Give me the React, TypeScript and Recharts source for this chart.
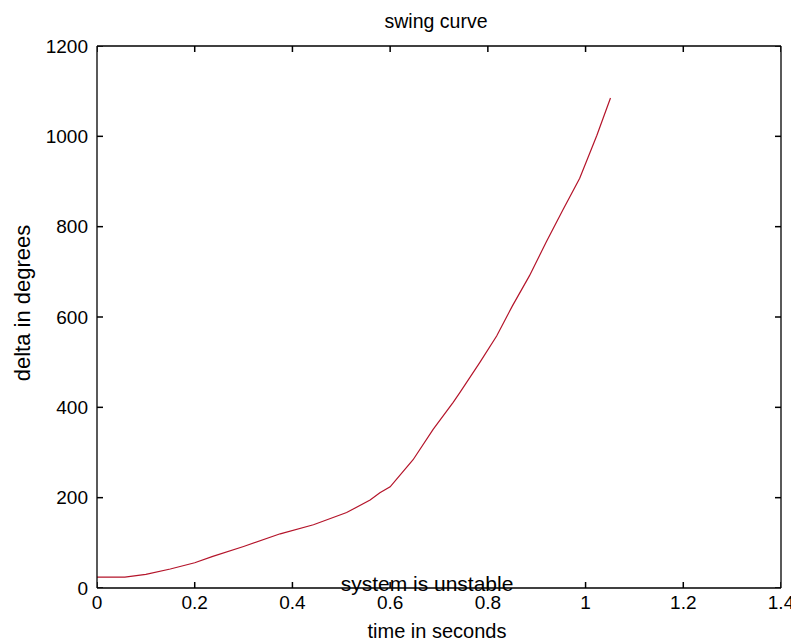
import React from 'react';
import { ComposedChart, Line, Scatter, XAxis, YAxis, Customized } from 'recharts';

const timeValues = [0, 0.02, 0.04, 0.057, 0.1, 0.15, 0.2, 0.237, 0.3, 0.375, 0.443, 0.511, 0.559, 0.579, 0.6, 0.647, 0.688, 0.729, 0.743, 0.784, 0.818, 0.85, 0.885, 0.92, 0.954, 0.988, 1.023, 1.051];
const deltaValues = [24, 24, 24, 24, 30, 42, 56, 70, 92, 120, 140, 167, 195, 211, 224, 284, 351, 411, 433, 500, 558, 624, 691, 767, 838, 907, 1002, 1085];
const xTicks = [0, 0.2, 0.4, 0.6, 0.8, 1, 1.2, 1.4];
const yTicks = [0, 200, 400, 600, 800, 1000, 1200];

const titleText = 'swing curve';
const xLabelText = 'time in seconds';
const yLabelText = 'delta in degrees';
const noteText = 'system is unstable';

const X_MIN = 0;
const X_MAX = 1.4;
const Y_MIN = 0;
const Y_MAX = 1200;

const data = timeValues.map((t, i) => ({ t, delta: deltaValues[i] }));

// tick anchor points on the four sides of the frame
const bottomTickData = xTicks.map((t) => ({ t, delta: Y_MIN }));
const topTickData = xTicks.map((t) => ({ t, delta: Y_MAX }));
const leftTickData = yTicks.map((v) => ({ t: X_MIN, delta: v }));
const rightTickData = yTicks.map((v) => ({ t: X_MAX, delta: v }));

const FONT = '"Liberation Sans", Arial, Helvetica, sans-serif';
const TICK_LEN = 6;

const makeTickShape = (dx: number, dy: number) => (props: any) => {
  const cx = Number(props.cx);
  const cy = Number(props.cy);
  if (!isFinite(cx) || !isFinite(cy)) return <g />;
  return <path d={`M${cx},${cy}L${cx + dx},${cy + dy}`} stroke="#000" strokeWidth={1.5} fill="none" />;
};

const bottomShape = makeTickShape(0, -TICK_LEN);
const topShape = makeTickShape(0, TICK_LEN);
const leftShape = makeTickShape(TICK_LEN, 0);
const rightShape = makeTickShape(-TICK_LEN, 0);

const BottomTick = (props: any) => {
  const { x, y, payload } = props;
  return (
    <text x={x} y={y + 8} dy="0.71em" textAnchor="middle" fontSize={19} fontFamily={FONT} fill="#000">
      {String(payload.value)}
    </text>
  );
};

const LeftTick = (props: any) => {
  const { x, y, payload } = props;
  return (
    <text x={x - 9} y={y} dy="0.355em" textAnchor="end" fontSize={19} fontFamily={FONT} fill="#000">
      {String(payload.value)}
    </text>
  );
};

const Texts = () => (
  <g fontFamily={FONT} fill="#000">
    <text x={428} y={20} textAnchor="middle" fontSize={19.5}>{titleText}</text>
    <text x={429} y={630} textAnchor="middle" fontSize={20}>{xLabelText}</text>
    <text x={22} y={295} textAnchor="middle" fontSize={22} transform="rotate(-90 22 295)">{yLabelText}</text>
    <text x={419} y={583} textAnchor="middle" fontSize={21}>{noteText}</text>
  </g>
);

export default function App() {
  return (
    <div style={{ width: 791, height: 634 }}>
      <ComposedChart width={791} height={634} data={data} margin={{ top: 28, right: 8, bottom: 24, left: 29 }}>
        <XAxis xAxisId="bottom" orientation="bottom" dataKey="t" type="number" domain={[X_MIN, X_MAX]} ticks={xTicks} height={30}
          tickSize={0} tickMargin={0} tickLine={false} tick={BottomTick} axisLine={{ stroke: '#000', strokeWidth: 1.3 }} interval={0}
          allowDataOverflow />
        <XAxis xAxisId="top" orientation="top" dataKey="t" type="number" domain={[X_MIN, X_MAX]} ticks={xTicks} height={10}
          tickSize={0} tickLine={false} tick={false} axisLine={{ stroke: '#000', strokeWidth: 1.3 }} interval={0} allowDataOverflow />
        <YAxis yAxisId="left" orientation="left" type="number" dataKey="delta" domain={[Y_MIN, Y_MAX]} ticks={yTicks} width={60}
          tickSize={0} tickMargin={0} tickLine={false} tick={LeftTick} axisLine={{ stroke: '#000', strokeWidth: 1.3 }} interval={0}
          allowDataOverflow />
        <YAxis yAxisId="right" orientation="right" type="number" dataKey="delta" domain={[Y_MIN, Y_MAX]} ticks={yTicks} width={10}
          tickSize={0} tickLine={false} tick={false} axisLine={{ stroke: '#000', strokeWidth: 1.3 }} interval={0} allowDataOverflow />
        <Scatter xAxisId="bottom" yAxisId="left" data={bottomTickData} dataKey="delta" shape={bottomShape} isAnimationActive={false} />
        <Scatter xAxisId="bottom" yAxisId="left" data={topTickData} dataKey="delta" shape={topShape} isAnimationActive={false} />
        <Scatter xAxisId="bottom" yAxisId="left" data={leftTickData} dataKey="delta" shape={leftShape} isAnimationActive={false} />
        <Scatter xAxisId="bottom" yAxisId="left" data={rightTickData} dataKey="delta" shape={rightShape} isAnimationActive={false} />
        <Line xAxisId="bottom" yAxisId="left" type="linear" dataKey="delta" stroke="#b4142a" strokeWidth={1.2}
          dot={false} isAnimationActive={false} />
        <Customized component={<Texts />} />
      </ComposedChart>
    </div>
  );
}
